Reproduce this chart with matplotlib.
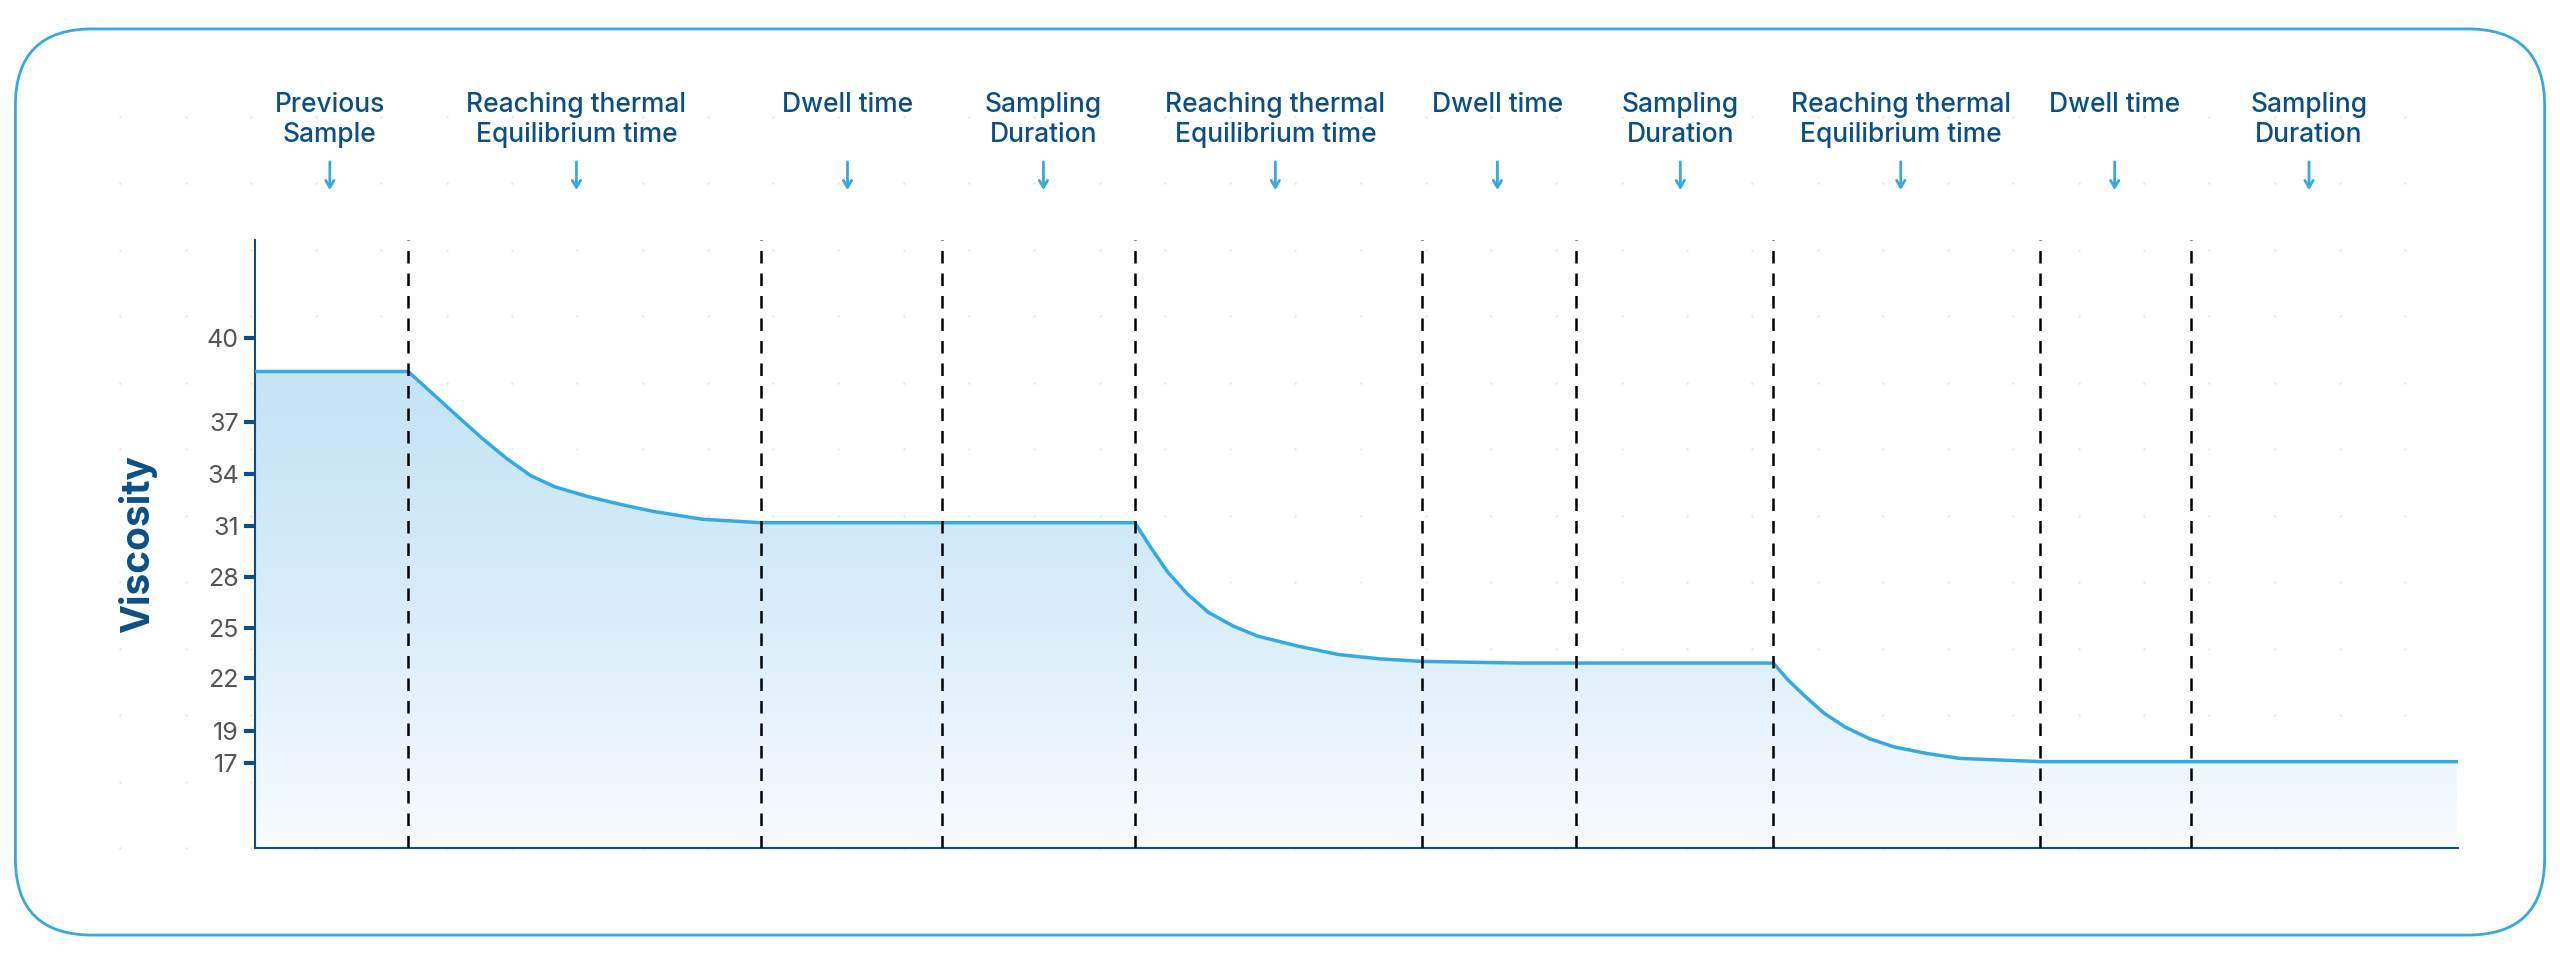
import numpy as np
import matplotlib.pyplot as plt
from matplotlib.patches import FancyBboxPatch
from matplotlib.colors import LinearSegmentedColormap

plt.rcParams['font.family'] = ['Inter', 'DejaVu Sans']

# viscosity curve (x in arbitrary time units)
time = [0, 94, 109, 124, 139, 154, 169, 184, 204, 224, 244, 274, 310,
        539, 549, 559, 571, 584, 599, 614, 639, 664, 689, 714, 774, 809,
        930, 939, 949, 961, 974, 989, 1004, 1024, 1044, 1094, 1349]
viscosity = [38.8, 38.8, 38.0, 37.2, 36.06, 34.9, 33.9, 33.25, 32.7, 32.25, 31.85, 31.4, 31.2,
             31.2, 29.7, 28.3, 27.0, 25.9, 25.1, 24.5, 23.9, 23.4, 23.15, 23.0, 22.9, 22.9,
             22.9, 21.9, 21.0, 20.0, 19.2, 18.5, 18.0, 17.6, 17.3, 17.1, 17.1]
dividers = [94, 310, 421, 539, 715, 809, 930, 1093, 1186]
phase_x = [46, 197, 363, 483, 625, 761, 873, 1008, 1139, 1258]
phase_labels = ["Previous\nSample", "Reaching thermal\nEquilibrium time", "Dwell time",
                "Sampling\nDuration", "Reaching thermal\nEquilibrium time", "Dwell time",
                "Sampling\nDuration", "Reaching thermal\nEquilibrium time", "Dwell time",
                "Sampling\nDuration"]
yticks = [17, 19, 22, 25, 28, 31, 34, 37, 40]

# uneven y-axis spacing as drawn in the source
scale_v = [12, 17, 19, 22, 25, 28, 31, 34, 37, 40, 46]
scale_p = [0, 52, 72, 104, 135, 166, 197, 229, 261, 312, 372]

def fwd(v):
    return np.interp(v, scale_v, scale_p)

def inv(p):
    return np.interp(p, scale_p, scale_v)

DARK = "#0b4f86"
BLUE = "#36a9e1"

fig = plt.figure(figsize=(25.6, 9.64), dpi=100)

# rounded frame
fig.patches.append(FancyBboxPatch((0.006, 0.03), 0.988, 0.94, boxstyle="round,pad=0,rounding_size=0.03",
                                  transform=fig.transFigure, fill=False, ec=BLUE, lw=2,
                                  mutation_aspect=2560 / 964))

# dotted background
bg = fig.add_axes([0, 0, 1, 1], zorder=-1)
bg.axis("off")
gx, gy = np.meshgrid(np.arange(0.047, 0.96, 0.0255), np.arange(0.12, 0.9, 0.069))
bg.scatter(gx.ravel(), gy.ravel(), s=3, color="#e6e6e6", lw=0)
bg.set_xlim(0, 1)
bg.set_ylim(0, 1)

ax = fig.add_axes([0.0995, 0.12, 0.8605, 0.631])
ax.set_yscale("function", functions=(fwd, inv))
ax.set_xlim(0, 1349)
ax.set_ylim(12, 46)

poly = ax.fill_between(time, viscosity, 12, color="none", lw=0)
grad = np.linspace(0, 1, 256).reshape(-1, 1)
cmap = LinearSegmentedColormap.from_list("g", ["#f8fbfe", "#d8edf9", "#c2e3f5"])
im = ax.imshow(grad, cmap=cmap, aspect="auto", origin="lower",
               extent=[0, 1349, 12, 40], zorder=1)
im.set_clip_path(poly.get_paths()[0], transform=ax.transData)
ax.plot(time, viscosity, color=BLUE, lw=2.5, zorder=3)

for d in dividers:
    ax.axvline(d, color="black", ls=(0, (5, 4)), lw=1.8, zorder=4)

for x, lab in zip(phase_x, phase_labels):
    ax.annotate(lab, (x, 0), xycoords=("data", "figure fraction"), xytext=(x, 0.905),
                textcoords=("data", "figure fraction"), ha="center", va="top",
                fontsize=19, color=DARK, fontweight="medium", linespacing=1.2)
    ax.annotate("", (x, 0.8), xycoords=("data", "figure fraction"), xytext=(x, 0.835),
                textcoords=("data", "figure fraction"),
                arrowprops=dict(arrowstyle="->,head_length=0.5,head_width=0.3", color=BLUE, lw=2))

ax.set_yticks(yticks)
ax.set_yticklabels([str(t) for t in yticks])
ax.set_xticks([])
ax.tick_params(axis="y", colors=DARK, width=3, length=8, labelsize=18, labelcolor="#555555")
ax.set_ylabel("Viscosity", fontsize=28, fontweight="bold", color=DARK, labelpad=36)
for s in ["top", "right"]:
    ax.spines[s].set_visible(False)
ax.spines["left"].set_color(DARK)
ax.spines["bottom"].set_color(DARK)
ax.spines["left"].set_linewidth(1.5)
ax.spines["bottom"].set_linewidth(1.5)
ax.patch.set_alpha(0)

fig.savefig("out.png", dpi=100)
